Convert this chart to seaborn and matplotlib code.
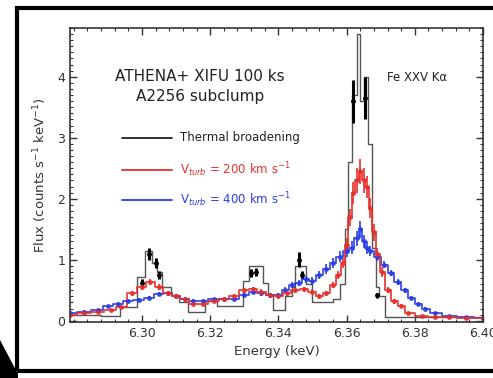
import numpy as np
import pandas as pd
import matplotlib
matplotlib.use("Agg")
import matplotlib.pyplot as plt
import seaborn as sns
from matplotlib.patches import Polygon, Rectangle
from matplotlib.lines import Line2D
from matplotlib.ticker import MultipleLocator

# ---------------- data ----------------
# Thermal broadening: step histogram (left bin edges, values)
thermal_edges = [6.2789, 6.2880, 6.2935, 6.2985, 6.3010, 6.3030, 6.3045, 6.3060, 6.3085,
                 6.3110, 6.3135, 6.3185, 6.3220, 6.3295, 6.3315, 6.3355, 6.3370, 6.3385,
                 6.3420, 6.3440, 6.3450, 6.3480, 6.3500, 6.3560, 6.3580, 6.3595, 6.3605,
                 6.3615, 6.3630, 6.3640, 6.3650, 6.3662, 6.3675, 6.3685, 6.3695, 6.3712,
                 6.3800, 6.4000]
thermal_flux = [0.10, 0.08, 0.22, 0.72, 1.15, 0.95, 0.80, 0.55, 0.42,
                0.30, 0.15, 0.32, 0.25, 0.65, 0.90, 0.62, 0.42, 0.18,
                0.40, 0.55, 0.90, 0.60, 0.30, 0.35, 0.60, 1.50, 2.60,
                3.70, 4.70, 3.60, 4.00, 2.90, 1.20, 0.55, 0.40, 0.06,
                0.06, 0.06]
# thermal error-bar points
thermal_pts_e = [6.3000, 6.3020, 6.3040, 6.3050, 6.3320, 6.3335, 6.3460, 6.3470, 6.3620, 6.3655, 6.3690]
thermal_pts_f = [0.62, 1.10, 0.95, 0.75, 0.78, 0.80, 1.00, 0.75, 3.60, 3.65, 0.42]
thermal_pts_err = [0.06, 0.10, 0.08, 0.07, 0.07, 0.07, 0.12, 0.07, 0.35, 0.35, 0.04]

# V_turb = 200 km/s
red_e = [6.2790, 6.2830, 6.2870, 6.2910, 6.2940, 6.2970, 6.3000, 6.3025, 6.3050, 6.3075,
         6.3100, 6.3125, 6.3150, 6.3180, 6.3210, 6.3240, 6.3270, 6.3300, 6.3325, 6.3350,
         6.3375, 6.3400, 6.3425, 6.3450, 6.3475, 6.3500, 6.3520, 6.3540, 6.3560, 6.3575,
         6.3590, 6.3600, 6.3610, 6.3620, 6.3630, 6.3640, 6.3650, 6.3660, 6.3670, 6.3680,
         6.3690, 6.3705, 6.3720, 6.3740, 6.3760, 6.3780, 6.3820, 6.3860, 6.3900, 6.3950,
         6.4000]
red_f = [0.10, 0.12, 0.14, 0.18, 0.22, 0.45, 0.55, 0.64, 0.55, 0.45,
         0.40, 0.35, 0.28, 0.28, 0.32, 0.35, 0.40, 0.50, 0.52, 0.48,
         0.42, 0.40, 0.45, 0.50, 0.52, 0.48, 0.40, 0.45, 0.58, 0.75,
         0.95, 1.25, 1.70, 2.10, 2.30, 2.45, 2.30, 2.20, 1.85, 1.45,
         1.10, 0.80, 0.50, 0.32, 0.25, 0.12, 0.08, 0.07, 0.06, 0.05,
         0.05]
red_err = [0.02, 0.02, 0.02, 0.02, 0.03, 0.04, 0.05, 0.05, 0.05, 0.04,
           0.04, 0.03, 0.03, 0.03, 0.03, 0.03, 0.04, 0.04, 0.04, 0.04,
           0.04, 0.04, 0.04, 0.04, 0.04, 0.04, 0.04, 0.04, 0.05, 0.06,
           0.08, 0.10, 0.14, 0.18, 0.20, 0.20, 0.20, 0.18, 0.16, 0.14,
           0.10, 0.08, 0.05, 0.04, 0.03, 0.02, 0.02, 0.02, 0.02, 0.02,
           0.02]

# V_turb = 400 km/s
blue_e = [6.2790, 6.2830, 6.2870, 6.2900, 6.2930, 6.2960, 6.2990, 6.3020, 6.3050, 6.3075,
          6.3100, 6.3125, 6.3150, 6.3180, 6.3210, 6.3240, 6.3270, 6.3300, 6.3325, 6.3350,
          6.3375, 6.3400, 6.3420, 6.3440, 6.3460, 6.3480, 6.3500, 6.3520, 6.3540, 6.3560,
          6.3580, 6.3600, 6.3615, 6.3630, 6.3640, 6.3650, 6.3660, 6.3670, 6.3690, 6.3710,
          6.3730, 6.3750, 6.3770, 6.3790, 6.3810, 6.3830, 6.3860, 6.3900, 6.3950, 6.4000]
blue_f = [0.12, 0.15, 0.18, 0.24, 0.28, 0.32, 0.34, 0.38, 0.44, 0.45,
          0.40, 0.36, 0.33, 0.33, 0.35, 0.35, 0.36, 0.42, 0.48, 0.45,
          0.42, 0.42, 0.50, 0.58, 0.62, 0.68, 0.65, 0.75, 0.85, 0.95,
          1.05, 1.15, 1.20, 1.35, 1.50, 1.30, 1.20, 1.15, 1.05, 0.92,
          0.78, 0.64, 0.50, 0.38, 0.28, 0.20, 0.13, 0.08, 0.06, 0.05]
blue_err = [0.02, 0.02, 0.02, 0.02, 0.03, 0.03, 0.03, 0.03, 0.04, 0.04,
            0.04, 0.03, 0.03, 0.03, 0.03, 0.03, 0.03, 0.04, 0.04, 0.04,
            0.04, 0.04, 0.05, 0.05, 0.05, 0.06, 0.06, 0.07, 0.08, 0.08,
            0.09, 0.10, 0.10, 0.12, 0.14, 0.10, 0.10, 0.08, 0.07, 0.06,
            0.05, 0.05, 0.04, 0.03, 0.03, 0.02, 0.02, 0.02, 0.02, 0.02]

xticks = [6.30, 6.32, 6.34, 6.36, 6.38, 6.40]
xticklabels = ["6.30", "6.32", "6.34", "6.36", "6.38", "6.40"]
yticks = [0, 1, 2, 3, 4]

RED = "#e8302c"
BLUE = "#2a3ee8"
TXT = "#333333"

# ---------------- figure ----------------
sns.set_theme(style="white")
plt.rcParams["font.family"] = ["DejaVu Sans"]
fig = plt.figure(figsize=(4.93, 3.78), dpi=100)
ax = fig.add_axes([70 / 493, 1 - 322 / 378, 413 / 493, 294 / 378])

df_t = pd.DataFrame({"E": thermal_edges, "F": thermal_flux})
df_r = pd.DataFrame({"E": red_e, "F": red_f})
df_b = pd.DataFrame({"E": blue_e, "F": blue_f})

sns.lineplot(data=df_t, x="E", y="F", drawstyle="steps-post", color="#555555",
             linewidth=1.0, ax=ax, estimator=None)
ax.errorbar(thermal_pts_e, thermal_pts_f, yerr=thermal_pts_err, fmt="o", ms=2.5,
            color="black", elinewidth=2.2, capsize=0)

sns.lineplot(data=df_b, x="E", y="F", drawstyle="steps-mid", color=BLUE,
             linewidth=1.4, alpha=0.85, ax=ax, estimator=None)
ax.errorbar(blue_e, blue_f, yerr=blue_err, fmt="o", ms=2.5, color=BLUE,
            elinewidth=1.4, capsize=0, alpha=0.85)

sns.lineplot(data=df_r, x="E", y="F", drawstyle="steps-mid", color=RED,
             linewidth=1.4, alpha=0.85, ax=ax, estimator=None)
ax.errorbar(red_e, red_f, yerr=red_err, fmt="o", ms=2.5, color=RED,
            elinewidth=1.4, capsize=0, alpha=0.85)

ax.set_xlim(6.2789, 6.40)
ax.set_ylim(-0.02, 4.8)
ax.set_xticks(xticks)
ax.set_xticklabels(xticklabels)
ax.set_yticks(yticks)
ax.xaxis.set_minor_locator(MultipleLocator(0.004))
ax.yaxis.set_minor_locator(MultipleLocator(0.1))
ax.tick_params(axis="both", which="both", direction="in", top=True, right=True,
               bottom=True, left=True, colors="#333333", labelcolor=TXT, labelsize=9)
ax.tick_params(which="major", length=5, width=1.0)
ax.tick_params(which="minor", length=2.5, width=0.8)
for s in ax.spines.values():
    s.set_color("#333333")
    s.set_linewidth(1.2)

ax.set_xlabel("Energy (keV)", fontsize=9.5, color=TXT, labelpad=4)
ax.set_ylabel("Flux (counts s$^{-1}$ keV$^{-1}$)", fontsize=9.5, color=TXT, labelpad=6)

# annotations
ax.text(0.315, 0.835, "ATHENA+ XIFU 100 ks", transform=ax.transAxes, ha="center",
        va="center", fontsize=11, color="#222222")
ax.text(0.315, 0.768, "A2256 subclump", transform=ax.transAxes, ha="center",
        va="center", fontsize=11, color="#222222")
ax.text(0.84, 0.832, "Fe XXV K\u03b1", transform=ax.transAxes, ha="center",
        va="center", fontsize=8.5, color="#222222")

leg = [("Thermal broadening", "#222222", 138),
       ("V$_{turb}$ = 200 km s$^{-1}$", RED, 170),
       ("V$_{turb}$ = 400 km s$^{-1}$", BLUE, 200)]
for label, c, ypx in leg:
    yf = (322 - ypx) / 294
    ax.add_line(Line2D([(122 - 70) / 413, (172 - 70) / 413], [yf, yf],
                       transform=ax.transAxes, color=c, lw=1.3))
    ax.text((180 - 70) / 413, yf, label, transform=ax.transAxes, ha="left",
            va="center", fontsize=8.5, color=c)

# outer frame and callout triangle
W, H = 493, 378
fig.add_artist(Rectangle((17 / W, 7 / H), 1.0, (370 - 7) / H, transform=fig.transFigure,
                         fill=False, edgecolor="black", linewidth=3))
fig.add_artist(Polygon([(0, 1 - 340 / H), (18 / W, 1 - 374 / H), (18 / W, 0), (0, 0)],
                       closed=True, transform=fig.transFigure, facecolor="black",
                       edgecolor="none"))

fig.savefig("out.png", dpi=100)
